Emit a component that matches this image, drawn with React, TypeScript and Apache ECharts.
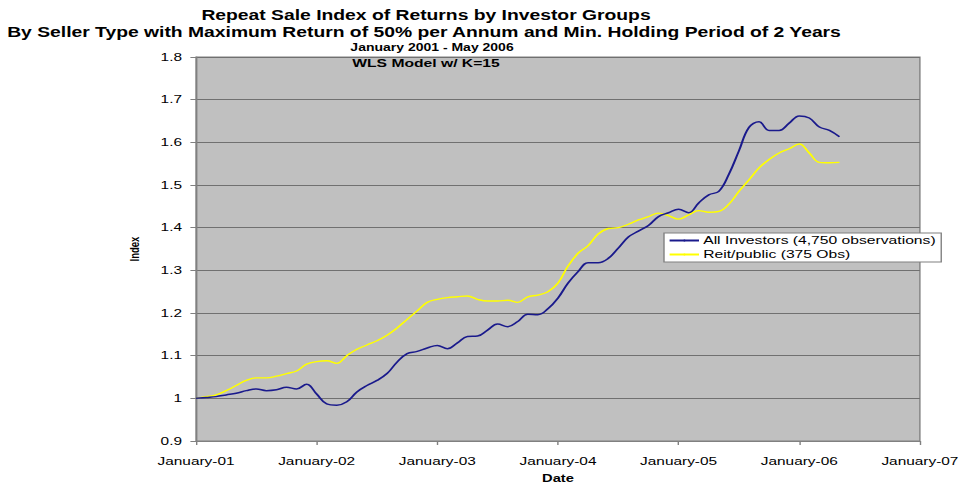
import React, { useEffect, useRef } from "react";
import * as echarts from "echarts";

const yearTickLabels = ["January-01", "January-02", "January-03", "January-04", "January-05", "January-06", "January-07"];

// Monthly index values, January 2001 - May 2006
const allInvestors = [
  1.000, 1.002, 1.004, 1.008, 1.012, 1.018, 1.022, 1.018, 1.020, 1.026, 1.022, 1.033,
  1.010, 0.987, 0.984, 0.992, 1.015, 1.030, 1.042, 1.058, 1.085, 1.105, 1.110, 1.118,
  1.124, 1.116, 1.130, 1.145, 1.146, 1.160, 1.174, 1.168, 1.180, 1.197, 1.196, 1.210,
  1.235, 1.270, 1.297, 1.318, 1.318, 1.328, 1.352, 1.378, 1.392, 1.405, 1.426, 1.435,
  1.443, 1.435, 1.458, 1.477, 1.485, 1.525, 1.580, 1.635, 1.648, 1.628, 1.628, 1.645,
  1.662, 1.657, 1.636, 1.628, 1.613,
];

const reitPublic = [
  1.000, 1.004, 1.008, 1.018, 1.030, 1.042, 1.048, 1.048, 1.052, 1.058, 1.064, 1.080,
  1.086, 1.088, 1.082, 1.100, 1.115, 1.125, 1.135, 1.148, 1.165, 1.185, 1.205, 1.225,
  1.232, 1.236, 1.238, 1.240, 1.232, 1.228, 1.228, 1.230, 1.225, 1.238, 1.242, 1.250,
  1.270, 1.310, 1.340, 1.358, 1.385, 1.398, 1.400, 1.408, 1.418, 1.426, 1.434, 1.428,
  1.420, 1.430, 1.440, 1.436, 1.438, 1.455, 1.485, 1.512, 1.540, 1.560, 1.575, 1.585,
  1.596, 1.575, 1.553, 1.552, 1.553,
];

const seriesNames = ["All Investors (4,750 observations)", "Reit/public (375 Obs)"];
const titleLines = [
  "Repeat Sale Index of Returns by Investor Groups",
  "By Seller Type with Maximum Return of 50% per Annum and Min. Holding Period of 2 Years",
  "January 2001 - May 2006",
  "WLS Model w/ K=15",
];

const FONT = "'Liberation Sans', Arial, sans-serif";
// the reference picture is horizontally stretched; draw narrower and stretch
const STRETCH = 1.4;
const PAGE_W = 961;
const PAGE_H = 484;

export default function App() {
  const ref = useRef<HTMLDivElement>(null);
  useEffect(() => {
    if (!ref.current) return;
    const chart = echarts.init(ref.current, undefined, { renderer: "svg" });
    const toPairs = (arr: number[]) => arr.map((v, i) => [i, v]);
    const X = (px: number) => px / STRETCH;
    chart.setOption({
      animation: false,
      textStyle: { fontFamily: FONT },
      title: [
        { text: titleLines[0], left: X(419), top: 3, textAlign: "center", textStyle: { fontSize: 13.8, fontWeight: "bold", color: "#000", fontFamily: FONT } },
        { text: titleLines[1], left: X(417), top: 20, textAlign: "center", textStyle: { fontSize: 13.8, fontWeight: "bold", color: "#000", fontFamily: FONT } },
        { text: titleLines[2], left: X(425), top: 38, textAlign: "center", textStyle: { fontSize: 10, fontWeight: "bold", color: "#000", fontFamily: FONT } },
        { text: titleLines[3], left: X(419), top: 53, textAlign: "center", textStyle: { fontSize: 11.2, fontWeight: "bold", color: "#000", fontFamily: FONT } },
      ],
      grid: {
        left: X(196), right: X(PAGE_W - 920.5), top: 57, bottom: PAGE_H - 441,
        outerBoundsMode: "none", containLabel: false,
        show: true, backgroundColor: "#c0c0c0", borderColor: "#808080", borderWidth: 1,
      },
      legend: {
        orient: "vertical", left: X(664), top: 233,
        backgroundColor: "#fff", borderColor: "#808080", borderWidth: 1,
        padding: [2, 4, 2, 3], itemGap: 3, itemWidth: 21, itemHeight: 2,
        textStyle: { fontSize: 11.2, color: "#000", fontFamily: FONT, padding: [0, 0, 0, -2] },
        data: seriesNames,
      },
      xAxis: {
        type: "value", min: 0, max: 72, interval: 12,
        name: "Date", nameLocation: "middle", nameGap: 32,
        nameTextStyle: { fontSize: 10.5, fontWeight: "bold", color: "#000", fontFamily: FONT },
        axisLine: { lineStyle: { color: "#808080" } },
        axisTick: { show: true, length: 4, lineStyle: { color: "#808080" } },
        axisLabel: { color: "#000", fontSize: 11, margin: 15, formatter: (v: number) => yearTickLabels[Math.round(v / 12)] ?? "" },
        splitLine: { show: false },
      },
      yAxis: {
        type: "value", min: 0.9, max: 1.8, interval: 0.1,
        name: "Index", nameLocation: "middle", nameGap: 39, nameRotate: 90,
        nameTextStyle: { fontSize: 9.5, fontWeight: "bold", color: "#000", fontFamily: FONT },
        axisLine: { show: true, lineStyle: { color: "#808080" } },
        axisTick: { show: true, length: 4, lineStyle: { color: "#808080" } },
        axisLabel: { color: "#000", fontSize: 11, margin: 10, formatter: (v: number) => String(Number(v.toFixed(1))) },
        splitLine: { show: true, lineStyle: { color: "#707070", width: 1 } },
      },
      series: [
        {
          name: seriesNames[0], type: "line", data: toPairs(allInvestors), symbol: "none", smooth: 0.4,
          lineStyle: { color: "#1a1a8c", width: 1.5 }, itemStyle: { color: "#1a1a8c" }, z: 3,
        },
        {
          name: seriesNames[1], type: "line", data: toPairs(reitPublic), symbol: "none", smooth: 0.4,
          lineStyle: { color: "#ffff00", width: 1.4 }, itemStyle: { color: "#ffff00" }, z: 2,
        },
      ],
    });
    return () => chart.dispose();
  }, []);
  return (
    <div
      ref={ref}
      style={{
        position: "absolute", left: 0, top: 0,
        width: PAGE_W / STRETCH, height: PAGE_H,
        transform: `scaleX(${STRETCH})`, transformOrigin: "0 0",
      }}
    />
  );
}
